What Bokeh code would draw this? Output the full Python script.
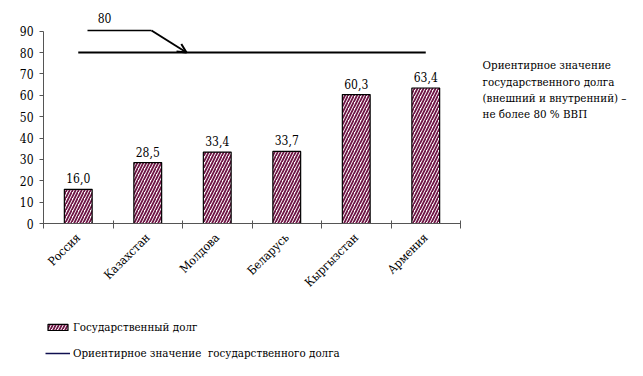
import math
from bokeh.plotting import figure
from bokeh.models import (ColumnDataSource, FixedTicker, Legend, LegendItem, Arrow,
                          OpenHead, Range1d)
from bokeh.core.properties import value
from bokeh.embed import file_html
from bokeh.resources import INLINE

countries = ["Россия", "Казахстан", "Молдова", "Беларусь", "Кыргызстан", "Армения"]
debt = [16.0, 28.5, 33.4, 33.7, 60.3, 63.4]
target = 80
y_ticks = [0, 10, 20, 30, 40, 50, 60, 70, 80, 90]
series_label = "Государственный долг"
line_label = "Ориентирное значение  государственного долга"
note_lines = ["Ориентирное значение", "государственного долга",
              "(внешний и внутренний) –", "не более 80 % ВВП"]

FONT = "DejaVu Serif Condensed"
n = len(countries)
centers = [i + 0.5 for i in range(n)]
labels = [f"{v:.1f}".replace(".", ",") for v in debt]

src = ColumnDataSource(dict(x=centers, top=debt, lab=labels))

p = figure(width=643, height=376, output_backend="svg", toolbar_location=None,
           x_range=Range1d(-0.6187, 8.633), y_range=Range1d(-71.58, 104.33),
           min_border=0)
p.outline_line_color = None
p.grid.visible = False
p.background_fill_color = "white"
p.border_fill_color = "white"

bars = p.vbar(x="x", top="top", bottom=0, width=0.4, source=src,
              fill_color="white", line_color="black", line_width=1.2,
              hatch_pattern="right_diagonal_line", hatch_color="#6e1444",
              hatch_scale=6, hatch_weight=1.8)

p.text(x="x", y="top", text="lab", source=src, text_align="center",
       text_baseline="bottom", y_offset=-6, text_font=value(FONT),
       text_font_size="12px", text_color="black")

# target line from first to last category center
ref = p.line(x=[centers[0], centers[-1]], y=[target, target], line_color="black",
             line_width=2)

# callout "80"
cy = target + 10.3
p.line(x=[0.633, 1.554], y=[cy, cy], line_color="black", line_width=1.5)
p.add_layout(Arrow(end=OpenHead(size=9, line_width=2, line_color="black"),
                   x_start=1.554, y_start=cy, x_end=2.058, y_end=target,
                   line_width=2, line_color="black"))
p.text(x=[0.878], y=[cy + 6], text=[str(target)], text_align="center",
       text_baseline="middle", text_font=value(FONT), text_font_size="12px",
       text_color="black")

# right-hand note
p.text(x=[6.317], y=[77.2], text=["\n".join(note_lines)], text_align="left",
       text_baseline="top", text_font=value(FONT), text_font_size="11.5px",
       text_line_height=1.15, text_color="black")

# axes (fixed inside the full-canvas frame)
p.yaxis.fixed_location = 0
p.yaxis.ticker = FixedTicker(ticks=y_ticks)
p.yaxis.bounds = (0, 90)
p.yaxis.major_tick_out = 4
p.yaxis.major_tick_in = 0
p.yaxis.minor_tick_line_color = None
p.yaxis.major_label_standoff = 6
p.yaxis.axis_line_color = "#555555"
p.yaxis.major_tick_line_color = "#555555"

p.xaxis.fixed_location = 0
p.xaxis.ticker = FixedTicker(ticks=centers, minor_ticks=list(range(n + 1)))
p.xaxis.bounds = (0, n)
p.xaxis.major_label_overrides = {c: name for c, name in zip(centers, countries)}
p.xaxis.major_tick_line_color = None
p.xaxis.minor_tick_line_color = "#555555"
p.xaxis.minor_tick_out = 5
p.xaxis.minor_tick_in = 3
p.xaxis.major_label_orientation = math.pi / 4
p.xaxis.major_label_standoff = 6
p.xaxis.axis_line_color = "#555555"

for ax in (p.xaxis[0], p.yaxis[0]):
    ax.major_label_text_font = FONT
    ax.major_label_text_font_size = "12px"
    ax.major_label_text_color = "black"

# legend (line sample lies outside the visible range)
legend_line = p.line(x=[-5, -4], y=[-500, -500], line_color="#101050", line_width=1.5)
legend = Legend(items=[LegendItem(label=series_label, renderers=[bars]),
                       LegendItem(label=line_label, renderers=[legend_line])],
                location=(45, 16), orientation="vertical",
                glyph_width=25, glyph_height=8, label_standoff=3,
                spacing=12, padding=0, margin=0,
                border_line_color=None, background_fill_alpha=0,
                label_text_font=FONT, label_text_font_size="11.5px",
                label_text_color="black")
p.add_layout(legend, "center")

open("out.html", "w").write(file_html(p, INLINE))
